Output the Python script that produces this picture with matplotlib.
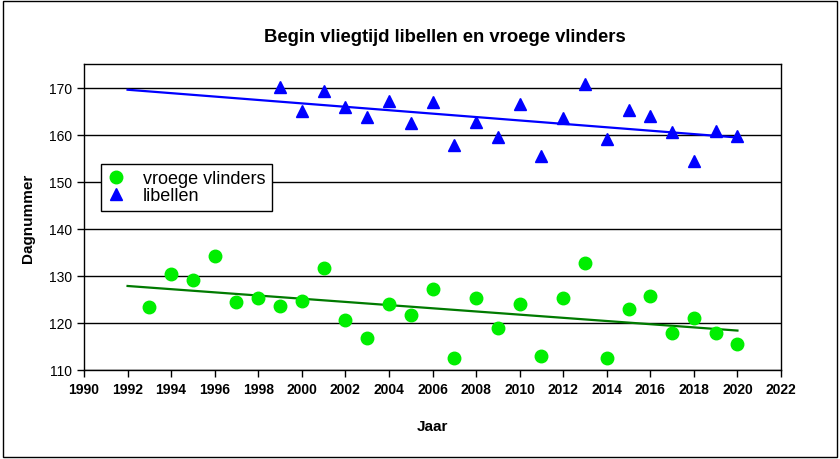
import numpy as np
import matplotlib
matplotlib.use("Agg")
import matplotlib.pyplot as plt
from matplotlib.patches import Rectangle

plt.rcParams['font.family'] = ['Liberation Sans', 'DejaVu Sans']

# data
years_libellen = list(range(1999, 2021))
libellen = [170.2, 165.0, 169.3, 165.8, 163.8, 167.1, 162.4, 166.9, 157.7, 162.7,
            159.5, 166.5, 155.4, 163.6, 170.7, 159.1, 165.2, 163.9, 160.6, 154.5,
            160.7, 159.6]

years_vlinders = list(range(1993, 2021))
vlinders = [123.3, 130.3, 129.2, 134.2, 124.4, 125.2, 123.7, 124.7, 131.6, 120.6,
            116.7, 124.1, 121.6, 127.1, 112.5, 125.2, 119.0, 124.1, 113.0, 125.4,
            132.8, 112.5, 123.0, 125.7, 117.9, 121.1, 117.9, 115.6]

trend_years = [1992, 2020]  # Excel trendline, forecast backward to 1992

fig = plt.figure(figsize=(8.4, 4.6), dpi=100)
ax = fig.add_axes([84 / 840, 1 - 371 / 460, 697 / 840, 306 / 460])

ax.yaxis.grid(True, color='black', linewidth=1)
ax.set_axisbelow(True)

ax.plot(years_vlinders, vlinders, 'o', color='#00ee00', markersize=9,
        linestyle='none', label='vroege vlinders', zorder=3)
ax.plot(years_libellen, libellen, '^', color='#0000ff', markersize=8.5,
        linestyle='none', label='libellen', zorder=3)

# linear trendlines
tx = np.array(trend_years)
p_v = np.polyfit(years_vlinders, vlinders, 1)
p_l = np.polyfit(years_libellen, libellen, 1)
ax.plot(tx, np.polyval(p_v, tx), color='#007a00', linewidth=1.6, zorder=2)
ax.plot(tx, np.polyval(p_l, tx), color='#0000ff', linewidth=1.6, zorder=2)

ax.set_xlim(1990, 2022)
ax.set_ylim(110, 175)
ax.set_xticks(range(1990, 2023, 2))
ax.set_yticks(range(110, 171, 10))
for lab in ax.get_xticklabels():
    lab.set_fontweight('bold')
ax.tick_params(axis='both', direction='out', length=5, width=1, labelsize=10,
               color='black')
ax.tick_params(axis='x', pad=4)
for s in ax.spines.values():
    s.set_color('black')
    s.set_linewidth(1)

ax.set_xlabel('Jaar', fontsize=11, fontweight='bold', labelpad=16)
ax.set_ylabel('Dagnummer', fontsize=11, fontweight='bold', labelpad=10)
fig.text(0.53, 1 - 38 / 460, 'Begin vliegtijd libellen en vroege vlinders',
         ha='center', va='center', fontsize=13.3, fontweight='bold')

leg = ax.legend(loc='upper left', bbox_to_anchor=(0.024, 0.673), borderaxespad=0,
                fancybox=False, edgecolor='black', framealpha=1, fontsize=13,
                handlelength=1.0, handletextpad=1.0, labelspacing=0.0,
                borderpad=0.35)
leg.get_frame().set_linewidth(1)

fig.patches.append(Rectangle((0.003, 0.004), 0.993, 0.992, transform=fig.transFigure,
                             fill=False, edgecolor='black', linewidth=1))

fig.savefig('out.png', dpi=100)
